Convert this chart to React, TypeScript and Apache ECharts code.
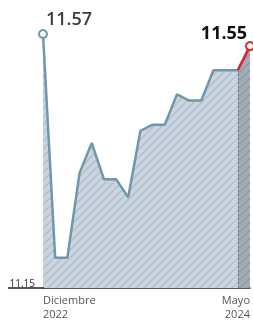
import React, { useEffect, useRef } from "react";
import * as echarts from "echarts";

const months = [
  "Diciembre\n2022", "Enero\n2023", "Febrero\n2023", "Marzo\n2023", "Abril\n2023", "Mayo\n2023",
  "Junio\n2023", "Julio\n2023", "Agosto\n2023", "Septiembre\n2023", "Octubre\n2023", "Noviembre\n2023",
  "Diciembre\n2023", "Enero\n2024", "Febrero\n2024", "Marzo\n2024", "Abril\n2024", "Mayo\n2024",
];
const values = [11.57, 11.2, 11.2, 11.34, 11.39, 11.33, 11.33, 11.3, 11.41, 11.42, 11.42, 11.47, 11.46, 11.46, 11.51, 11.51, 11.51, 11.55];
const yMin = 11.15;
const yMax = 11.57;
const highlightStart = 16;

function makePattern(bg: string, line: string) {
  const s = 8;
  const c = document.createElement("canvas");
  c.width = s;
  c.height = s;
  const ctx = c.getContext("2d")!;
  ctx.fillStyle = bg;
  ctx.fillRect(0, 0, s, s);
  ctx.strokeStyle = line;
  ctx.lineWidth = 1.5;
  ctx.beginPath();
  ctx.moveTo(-1, s + 1);
  ctx.lineTo(s + 1, -1);
  ctx.moveTo(-1, 1);
  ctx.lineTo(1, -1);
  ctx.moveTo(s - 1, s + 1);
  ctx.lineTo(s + 1, s - 1);
  ctx.stroke();
  return c;
}

export default function App() {
  const ref = useRef<HTMLDivElement>(null);
  useEffect(() => {
    if (!ref.current) return;
    const chart = echarts.init(ref.current, undefined, { renderer: "svg" });
    const lastIdx = values.length - 1;
    const blue = "#6f97ae";
    const red = "#e3202b";
    const font = "'Open Sans', sans-serif";

    const mainData = values.map((v, i) => {
      if (i === 0) {
        return {
          value: v,
          symbol: "circle",
          symbolSize: 8,
          itemStyle: { color: "#fff", borderColor: blue, borderWidth: 2 },
          label: {
            show: true,
            position: "top",
            distance: 2,
            offset: [26, 0],
            formatter: String(v),
            fontSize: 18,
            fontFamily: font,
            fontWeight: 600,
            color: "#3c3c3c",
          },
        };
      }
      return { value: v, symbol: "none" };
    });
    const hiData = values.map((v, i) => (i >= highlightStart ? v : null));
    const redData = values.map((v, i) => {
      if (i < highlightStart) return null;
      if (i === lastIdx) {
        return {
          value: v,
          symbol: "circle",
          symbolSize: 8,
          itemStyle: { color: "#fff", borderColor: red, borderWidth: 2 },
          label: {
            show: true,
            position: "top",
            distance: 0,
            offset: [-26, 0],
            formatter: String(v),
            fontSize: 18,
            fontFamily: font,
            fontWeight: "bold",
            color: "#111",
          },
        };
      }
      return { value: v, symbol: "none" };
    });

    chart.setOption({
      animation: false,
      grid: { left: 43, right: 3, top: 34, bottom: 32 },
      xAxis: {
        type: "category",
        boundaryGap: false,
        data: months.map((m, i) => ({
          value: m,
          textStyle: { align: i === 0 ? "left" : "right" },
        })),
        axisLine: { show: true, lineStyle: { color: "#222", width: 1.5 } },
        axisTick: { show: false },
        axisLabel: {
          interval: (i: number) => i === 0 || i === lastIdx,
          color: "#555",
          fontSize: 11,
          fontFamily: font,
          lineHeight: 14,
          margin: 4,
        },
        splitLine: { show: false },
      },
      yAxis: {
        type: "value",
        min: yMin,
        max: yMax,
        splitLine: { show: false },
        axisLine: { show: false },
        axisTick: { show: false },
        axisLabel: {
          formatter: (v: number) => (Math.abs(v - yMin) < 1e-9 ? yMin.toFixed(2) : ""),
          color: "#333",
          fontSize: 10,
          fontFamily: font,
          verticalAlign: "bottom",
          margin: 8,
        },
      },
      graphic: [
        {
          type: "line",
          shape: { x1: 8, y1: 288, x2: 44, y2: 288 },
          style: { stroke: "#222", lineWidth: 1.5 },
          z: 10,
        },
      ],
      series: [
        {
          type: "line",
          data: mainData,
          lineStyle: { color: blue, width: 2.5 },
          itemStyle: { color: blue },
          areaStyle: {
            color: { image: makePattern("#cbd5df", "#b2bfcc"), repeat: "repeat" },
            opacity: 1,
          },
          z: 2,
        },
        {
          type: "line",
          data: hiData,
          symbol: "none",
          lineStyle: { width: 0 },
          areaStyle: {
            color: { image: makePattern("#a3adb7", "#909ba6"), repeat: "repeat" },
            opacity: 1,
          },
          markLine: {
            silent: true,
            symbol: "none",
            label: { show: false },
            lineStyle: { color: "#6d7782", type: [2, 2], width: 1 },
            data: [[{ coord: [highlightStart, yMin] }, { coord: [highlightStart, values[highlightStart]] }]],
          },
          z: 3,
        },
        {
          type: "line",
          data: redData,
          lineStyle: { color: red, width: 2.5 },
          itemStyle: { color: red },
          z: 4,
        },
      ],
    });
    return () => chart.dispose();
  }, []);
  return <div ref={ref} style={{ position: "fixed", left: 0, top: 0, width: 253, height: 320 }} />;
}
